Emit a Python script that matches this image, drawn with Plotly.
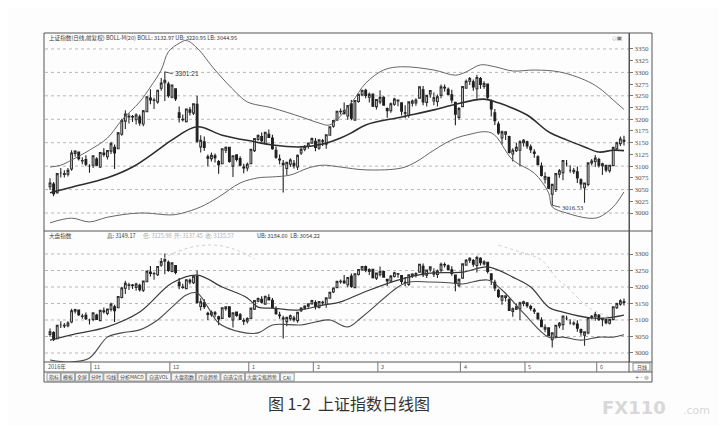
import plotly.graph_objects as go

# ---------------- data ----------------
dates = [
    "2016-10-14", "2016-10-17", "2016-10-18", "2016-10-19", "2016-10-20", "2016-10-21",
    "2016-10-24", "2016-10-25", "2016-10-26", "2016-10-27", "2016-10-28", "2016-10-31",
    "2016-11-01", "2016-11-02", "2016-11-03", "2016-11-04", "2016-11-07", "2016-11-08",
    "2016-11-09", "2016-11-10", "2016-11-11", "2016-11-14", "2016-11-15", "2016-11-16",
    "2016-11-17", "2016-11-18", "2016-11-21", "2016-11-22", "2016-11-23", "2016-11-24",
    "2016-11-25", "2016-11-28", "2016-11-29", "2016-11-30",
    "2016-12-01", "2016-12-02", "2016-12-05", "2016-12-06", "2016-12-07", "2016-12-08",
    "2016-12-09", "2016-12-12", "2016-12-13", "2016-12-14", "2016-12-15", "2016-12-16",
    "2016-12-19", "2016-12-20", "2016-12-21", "2016-12-22", "2016-12-23", "2016-12-26",
    "2016-12-27", "2016-12-28", "2016-12-29", "2016-12-30",
    "2017-01-03", "2017-01-04", "2017-01-05", "2017-01-06", "2017-01-09", "2017-01-10",
    "2017-01-11", "2017-01-12", "2017-01-13", "2017-01-16", "2017-01-17", "2017-01-18",
    "2017-01-19", "2017-01-20", "2017-01-23", "2017-01-24", "2017-01-25", "2017-01-26",
    "2017-02-03", "2017-02-06", "2017-02-07", "2017-02-08", "2017-02-09", "2017-02-10",
    "2017-02-13", "2017-02-14", "2017-02-15", "2017-02-16", "2017-02-17", "2017-02-20",
    "2017-02-21", "2017-02-22", "2017-02-23", "2017-02-24", "2017-02-27", "2017-02-28",
    "2017-03-01", "2017-03-02", "2017-03-03", "2017-03-06", "2017-03-07", "2017-03-08",
    "2017-03-09", "2017-03-10", "2017-03-13", "2017-03-14", "2017-03-15", "2017-03-16",
    "2017-03-17", "2017-03-20", "2017-03-21", "2017-03-22", "2017-03-23", "2017-03-24",
    "2017-03-27", "2017-03-28", "2017-03-29", "2017-03-30", "2017-03-31",
    "2017-04-05", "2017-04-06", "2017-04-07", "2017-04-10", "2017-04-11", "2017-04-12",
    "2017-04-13", "2017-04-14", "2017-04-17", "2017-04-18", "2017-04-19", "2017-04-20",
    "2017-04-21", "2017-04-24", "2017-04-25", "2017-04-26", "2017-04-27", "2017-04-28",
    "2017-05-02", "2017-05-03", "2017-05-04", "2017-05-05", "2017-05-08", "2017-05-09",
    "2017-05-10", "2017-05-11", "2017-05-12", "2017-05-15", "2017-05-16", "2017-05-17",
    "2017-05-18", "2017-05-19", "2017-05-22", "2017-05-23", "2017-05-24", "2017-05-25",
    "2017-05-26", "2017-05-31",
    "2017-06-01", "2017-06-02", "2017-06-05", "2017-06-06", "2017-06-07", "2017-06-08",
    "2017-06-09", "2017-06-12",
]

opens = [
    3056, 3062, 3043, 3085, 3082, 3083, 3094, 3127, 3130, 3111, 3114, 3100,
    3102, 3115, 3098, 3128, 3120, 3132, 3140, 3137, 3168, 3196, 3205, 3206, 3199, 3205, 3190, 3216, 3245, 3240, 3237, 3266, 3278, 3275,
    3247, 3265, 3214, 3200, 3195, 3220, 3213, 3232, 3141, 3152, 3120, 3116, 3122, 3110, 3105, 3134, 3140, 3100, 3124, 3116, 3098, 3096,
    3105, 3133, 3157, 3163, 3148, 3168, 3160, 3134, 3115, 3106, 3095, 3104, 3106, 3098, 3128, 3136, 3142, 3149,
    3153, 3138, 3154, 3147, 3166, 3185, 3198, 3216, 3218, 3207, 3233, 3198, 3238, 3252, 3262, 3247, 3254, 3227,
    3237, 3247, 3223, 3218, 3232, 3239, 3235, 3214, 3208, 3234, 3235, 3245, 3263, 3236, 3254, 3239, 3238, 3251, 3268, 3264, 3252, 3236, 3204,
    3227, 3266, 3281, 3280, 3265, 3287, 3270, 3275, 3240, 3214, 3190, 3160, 3168, 3163, 3126, 3133, 3134, 3150,
    3152, 3141, 3130, 3120, 3100, 3072, 3076, 3040, 3050, 3083, 3086, 3105, 3091, 3088, 3088, 3071, 3054, 3061, 3107, 3110,
    3114, 3101, 3102, 3090, 3101, 3137, 3148, 3155,
]
highs = [
    3074, 3066, 3084, 3096, 3091, 3096, 3134, 3134, 3131, 3119, 3123, 3104,
    3122, 3119, 3130, 3138, 3134, 3152, 3146, 3173, 3201, 3219, 3213, 3209, 3213, 3210, 3220, 3249, 3264, 3246, 3263, 3288, 3301.21, 3280,
    3274, 3266, 3227, 3210, 3222, 3226, 3233, 3250, 3166, 3163, 3125, 3129, 3127, 3113, 3138, 3142, 3141, 3123, 3125, 3121, 3105, 3108,
    3136, 3160, 3168, 3172, 3173, 3178, 3167, 3142, 3125, 3113, 3109, 3117, 3113, 3125, 3139, 3145, 3150, 3161,
    3160, 3157, 3158, 3167, 3185, 3198, 3217, 3223, 3236, 3230, 3241, 3240, 3254, 3262, 3265, 3257, 3254, 3243,
    3262, 3249, 3225, 3236, 3246, 3242, 3236, 3230, 3238, 3242, 3245, 3269, 3271, 3251, 3262, 3257, 3253, 3274, 3274, 3268, 3263, 3236, 3226,
    3270, 3285, 3290, 3285, 3295, 3290, 3281, 3276, 3242, 3222, 3195, 3176, 3174, 3165, 3138, 3150, 3155, 3158,
    3154, 3146, 3136, 3123, 3108, 3087, 3077, 3062, 3084, 3094, 3112, 3113, 3102, 3096, 3099, 3074, 3065, 3108, 3115, 3124,
    3118, 3107, 3103, 3103, 3141, 3152, 3163, 3165,
]
lows = [
    3049, 3036, 3043, 3076, 3076, 3078, 3090, 3120, 3112, 3104, 3100, 3086,
    3096, 3100, 3096, 3120, 3114, 3126, 3094, 3137, 3165, 3179, 3191, 3194, 3189, 3186, 3185, 3215, 3232, 3222, 3233, 3261, 3239, 3246,
    3245, 3239, 3193, 3195, 3193, 3208, 3209, 3150, 3129, 3133, 3100, 3110, 3108, 3084, 3104, 3128, 3107, 3077, 3110, 3100, 3085, 3089,
    3105, 3130, 3154, 3151, 3147, 3160, 3135, 3116, 3104, 3044, 3081, 3098, 3095, 3092, 3124, 3132, 3137, 3148,
    3132, 3135, 3143, 3137, 3166, 3182, 3198, 3210, 3210, 3199, 3198, 3197, 3235, 3249, 3245, 3236, 3226, 3221,
    3232, 3230, 3203, 3214, 3229, 3228, 3208, 3202, 3203, 3227, 3229, 3245, 3230, 3227, 3246, 3230, 3227, 3245, 3259, 3251, 3234, 3187, 3199,
    3227, 3266, 3273, 3261, 3244, 3265, 3265, 3241, 3206, 3188, 3167, 3146, 3156, 3127, 3110, 3130, 3100, 3142,
    3137, 3128, 3118, 3102, 3078, 3063, 3051, 3016.53, 3045, 3075, 3070, 3099, 3086, 3083, 3064, 3052, 3022, 3057, 3102, 3098,
    3097, 3081, 3087, 3086, 3100, 3133, 3143, 3144,
]
closes = [
    3064, 3041, 3084, 3085, 3084, 3091, 3128, 3132, 3116, 3112, 3104, 3100,
    3122, 3102, 3129, 3125, 3133, 3148, 3128, 3171, 3197, 3211, 3207, 3205, 3209, 3192, 3218, 3248, 3241, 3241, 3262, 3277, 3283, 3250,
    3273, 3244, 3204, 3199, 3222, 3215, 3233, 3153, 3155, 3140, 3117, 3123, 3118, 3103, 3137, 3140, 3110, 3122, 3114, 3102, 3096, 3104,
    3136, 3159, 3165, 3154, 3172, 3161, 3137, 3119, 3113, 3103, 3108, 3113, 3101, 3123, 3136, 3142, 3149, 3159,
    3140, 3156, 3153, 3167, 3184, 3197, 3217, 3217, 3212, 3229, 3202, 3240, 3253, 3262, 3251, 3253, 3228, 3242,
    3247, 3230, 3218, 3233, 3243, 3241, 3217, 3213, 3237, 3239, 3241, 3269, 3237, 3251, 3261, 3246, 3248, 3269, 3267, 3253, 3241, 3211, 3223,
    3270, 3281, 3287, 3269, 3289, 3274, 3276, 3247, 3222, 3197, 3171, 3173, 3173, 3129, 3134, 3140, 3152, 3155,
    3143, 3135, 3127, 3103, 3080, 3078, 3053, 3061, 3084, 3090, 3112, 3105, 3091, 3091, 3075, 3062, 3064, 3107, 3111, 3117,
    3102, 3105, 3092, 3102, 3140, 3150, 3158, 3153,
]

# Bollinger band readings (upper panel): bar index -> value
ub_at = [0, 3, 6, 11, 16, 20, 25, 28, 31, 33, 36, 38, 41, 46, 52, 55, 62, 70, 75, 78, 84, 88, 93, 98, 107, 113, 116, 120, 124, 129, 135, 142, 149, 153, 157, 160]
ub_val = [3098, 3102, 3113, 3134, 3160, 3198, 3237, 3269, 3305, 3344, 3362, 3368, 3352, 3305, 3256, 3237, 3224, 3205, 3192, 3188, 3235, 3277, 3305, 3312, 3305, 3294, 3301, 3316, 3312, 3303, 3305, 3301, 3284, 3267, 3241, 3221]
mid_at = [0, 6, 16, 23, 30, 34, 41, 48, 57, 62, 70, 76, 81, 84, 88, 98, 107, 112, 121, 125, 133, 139, 144, 149, 153, 157, 160]
mid_val = [3043, 3055, 3075, 3098, 3134, 3156, 3184, 3166, 3152, 3145, 3141, 3147, 3160, 3171, 3188, 3205, 3220, 3230, 3243, 3235, 3209, 3173, 3156, 3141, 3130, 3134, 3133]
lb_at = [0, 6, 11, 16, 25, 34, 37, 42, 47, 53, 58, 62, 67, 72, 76, 81, 88, 98, 102, 107, 112, 116, 123, 129, 135, 139, 140, 144, 150, 153, 157, 160]
lb_val = [2979, 2989, 2981, 2991, 3000, 2996, 3000, 3013, 3034, 3064, 3075, 3077, 3081, 3096, 3102, 3098, 3092, 3096, 3109, 3134, 3156, 3166, 3171, 3113, 3085, 3043, 3013, 3000, 2989, 2991, 3013, 3045]

# Lower panel ("大盘指数") lines
m2_at = [0, 6, 16, 25, 34, 41, 48, 55, 58, 62, 69, 76, 81, 87, 97, 106, 115, 122, 129, 134, 139, 143, 151, 155, 160]
m2_val = [3039, 3055, 3079, 3124, 3212, 3236, 3200, 3167, 3139, 3136, 3130, 3145, 3155, 3182, 3221, 3242, 3245, 3261, 3230, 3200, 3139, 3124, 3106, 3106, 3115]
l2_at = [0, 6, 11, 16, 20, 25, 30, 34, 38, 41, 44, 47, 53, 58, 62, 70, 74, 78, 83, 87, 97, 100, 106, 112, 115, 122, 126, 132, 139, 143, 148, 153, 157, 160]
l2_val = [2979, 2973, 2985, 3048, 3061, 3070, 3100, 3139, 3176, 3182, 3139, 3091, 3064, 3061, 3085, 3085, 3094, 3100, 3079, 3109, 3200, 3215, 3215, 3212, 3209, 3221, 3191, 3121, 3048, 3048, 3039, 3048, 3048, 3055]
# faint grey curve pieces visible in the lower panel (gaps where it leaves the panel)
u2_at = [30, 34, 40, 46, 52, 57, None, 125, 131, 137, 141, 145, 150, 156]
u2_val = [3275, 3300, 3322, 3327, 3312, 3285, None, 3327, 3306, 3282, 3230, 3191, 3139, 3109]

upper_ticks = [3000, 3025, 3050, 3075, 3100, 3125, 3150, 3175, 3200, 3225, 3250, 3275, 3300, 3325, 3350]
upper_grid = [3000, 3050, 3100, 3150, 3200, 3250, 3300, 3350]
lower_ticks = [3000, 3050, 3100, 3150, 3200, 3250, 3300]

month_labels = ["2016年", "11", "12", "1", "2", "3", "4", "5", "6"]
month_dates = ["2016-10-14", "2016-11-01", "2016-12-01", "2017-01-03", "2017-02-03",
               "2017-03-01", "2017-04-05", "2017-05-02", "2017-06-01"]

tabs = ["指标", "模板", "全屏", "分时", "均线", "分析MACD", "自选VOL", "大盘指数",
        "行业趋势", "自选宝库", "大盘宝瓶趋势", "CAI"]

header_upper = "上证指数(日线,前复权) BOLL-M(20) BOLL: 3132.97 UB: 3220.95 LB: 3044.95"
header_lower_a = "大盘指数"
header_lower_b = "高: 3149.17"
header_lower_c = "低: 3125.98  开: 3137.45  收: 3135.57"
header_lower_d = "UB: 3184.60  LB: 3054.22"
caption = "图 1-2  上证指数日线图"

# ---------------- figure ----------------
# the page body has an 8px margin, so the figure is 718x417 and every
# reference pixel position is shifted by 8px
OFF = 8
W, H = 726 - OFF, 425 - OFF
def px(x):
    return (x - OFF) / W
def py(y):
    return 1 - (y - OFF) / H

CJK = "Noto Sans CJK SC"
INK = "#3a3a3a"
idx = list(range(len(dates)))

fig = go.Figure()

candle_style = dict(
    increasing=dict(line=dict(color="#2e2e2e", width=1.1), fillcolor="#fdfdfd"),
    decreasing=dict(line=dict(color="#1f1f1f", width=1.1), fillcolor="#1f1f1f"),
    whiskerwidth=0, showlegend=False, hoverinfo="skip",
)

# upper panel bands
fig.add_trace(go.Scatter(x=ub_at, y=ub_val, mode="lines", line=dict(color="#666666", width=1, shape="spline"),
                         xaxis="x", yaxis="y", showlegend=False, hoverinfo="skip"))
fig.add_trace(go.Scatter(x=lb_at, y=lb_val, mode="lines", line=dict(color="#666666", width=1, shape="spline"),
                         xaxis="x", yaxis="y", showlegend=False, hoverinfo="skip"))
fig.add_trace(go.Scatter(x=mid_at, y=mid_val, mode="lines", line=dict(color="#2e2e2e", width=1.6, shape="spline"),
                         xaxis="x", yaxis="y", showlegend=False, hoverinfo="skip"))
fig.add_trace(go.Candlestick(x=idx, open=opens, high=highs, low=lows, close=closes,
                             xaxis="x", yaxis="y", **candle_style))

# lower panel
fig.add_trace(go.Scatter(x=u2_at, y=u2_val, mode="lines", connectgaps=False,
                         line=dict(color="#cfcfcf", width=1, shape="spline", dash="dot"),
                         xaxis="x2", yaxis="y2", showlegend=False, hoverinfo="skip"))
fig.add_trace(go.Scatter(x=m2_at, y=m2_val, mode="lines", line=dict(color="#3a3a3a", width=1.2, shape="spline"),
                         xaxis="x2", yaxis="y2", showlegend=False, hoverinfo="skip"))
fig.add_trace(go.Scatter(x=l2_at, y=l2_val, mode="lines", line=dict(color="#4a4a4a", width=1.1, shape="spline"),
                         xaxis="x2", yaxis="y2", showlegend=False, hoverinfo="skip"))
fig.add_trace(go.Candlestick(x=idx, open=opens, high=highs, low=lows, close=closes,
                             xaxis="x2", yaxis="y2", **candle_style))

xr = [-1.4, 161.4]
xdom = [px(45), px(629)]
common_x = dict(domain=xdom, range=xr, showticklabels=False, showgrid=False, zeroline=False,
                rangeslider=dict(visible=False), fixedrange=True, showline=False)
tickfont = dict(family="Liberation Serif", size=7, color="#555")
common_y = dict(side="right", showgrid=False, zeroline=False, ticks="outside", ticklen=3,
                tickcolor="#777", tickfont=tickfont, showline=True, linecolor="#555", linewidth=1,
                fixedrange=True)

fig.update_layout(
    width=W, height=H,
    margin=dict(l=0, r=0, t=0, b=0),
    paper_bgcolor="#fdfdfd", plot_bgcolor="#fdfdfd",
    xaxis=dict(anchor="y", **common_x),
    xaxis2=dict(anchor="y2", **common_x),
    yaxis=dict(anchor="x", domain=[py(231), py(33)], range=[2961.6, 3384],
               tickvals=upper_ticks, ticktext=[str(v) for v in upper_ticks], **common_y),
    yaxis2=dict(anchor="x2", domain=[py(362), py(231)], range=[2972.7, 3369.7],
                tickvals=lower_ticks, ticktext=[str(v) for v in lower_ticks], **common_y),
    showlegend=False,
)

shapes = []
# dotted grid lines
for v in upper_grid:
    shapes.append(dict(type="line", xref="paper", yref="y", x0=px(45), x1=px(629), y0=v, y1=v,
                       line=dict(color="#b8b8b8", width=1, dash="dot"), layer="below"))
for v in lower_ticks:
    shapes.append(dict(type="line", xref="paper", yref="y2", x0=px(45), x1=px(629), y0=v, y1=v,
                       line=dict(color="#b8b8b8", width=1, dash="dot"), layer="below"))
# frame
frame = dict(color="#555", width=1)
shapes.append(dict(type="rect", xref="paper", yref="paper", x0=px(44), x1=px(652), y0=py(382), y1=py(33), line=frame))
for yy in (231, 362, 372):
    shapes.append(dict(type="line", xref="paper", yref="paper", x0=px(44), x1=px(652), y0=py(yy), y1=py(yy), line=frame))
shapes.append(dict(type="line", xref="paper", yref="paper", x0=px(629), x1=px(629), y0=py(372), y1=py(33), line=frame))
# month separators on the time row
for d in month_dates[1:]:
    i = dates.index(d)
    shapes.append(dict(type="line", xref="x2", yref="paper", x0=i - 0.6, x1=i - 0.6, y0=py(372), y1=py(362),
                       line=dict(color="#777", width=1)))

annotations = []
annotations.append(dict(x=px(47), y=py(37.5), xref="paper", yref="paper", text=header_upper, showarrow=False,
                        xanchor="left", yanchor="middle", font=dict(family=CJK, size=5.6, color=INK)))
annotations.append(dict(x=px(47), y=py(236), xref="paper", yref="paper", text=header_lower_a, showarrow=False,
                        xanchor="left", yanchor="middle", font=dict(family=CJK, size=5.6, color=INK)))
annotations.append(dict(x=px(105), y=py(236), xref="paper", yref="paper", text=header_lower_b, showarrow=False,
                        xanchor="left", yanchor="middle", font=dict(family=CJK, size=5.6, color=INK)))
annotations.append(dict(x=px(141), y=py(236), xref="paper", yref="paper", text=header_lower_c, showarrow=False,
                        xanchor="left", yanchor="middle", font=dict(family=CJK, size=5.6, color="#b0b0b0")))
annotations.append(dict(x=px(255), y=py(236), xref="paper", yref="paper", text=header_lower_d, showarrow=False,
                        xanchor="left", yanchor="middle", font=dict(family=CJK, size=5.6, color=INK)))
annotations.append(dict(x=px(625), y=py(37.5), xref="paper", yref="paper", text="◇▣", showarrow=False,
                        xanchor="right", yanchor="middle", font=dict(family="DejaVu Sans", size=6, color="#777")))

# high / low markers
hi_i = highs.index(max(highs))
lo_i = lows.index(min(lows))
annotations.append(dict(x=hi_i, y=highs[hi_i], xref="x", yref="y", text="%.2f" % highs[hi_i],
                        showarrow=True, arrowhead=0, arrowwidth=0.8, arrowcolor="#333", ax=8, ay=2,
                        xanchor="left", yanchor="middle", font=dict(family="Liberation Sans", size=6.5, color="#333")))
annotations.append(dict(x=lo_i, y=lows[lo_i], xref="x", yref="y", text="%.2f" % lows[lo_i],
                        showarrow=True, arrowhead=0, arrowwidth=0.8, arrowcolor="#333", ax=8, ay=2,
                        xanchor="left", yanchor="middle", font=dict(family="Liberation Serif", size=6.5, color="#333")))

# month labels on the time row
for lab, d in zip(month_labels, month_dates):
    i = dates.index(d)
    annotations.append(dict(x=i - 0.2 if lab != month_labels[0] else -1.0, y=py(367), xref="x2", yref="paper",
                            text=lab, showarrow=False, xanchor="left", yanchor="middle",
                            font=dict(family=CJK, size=5.5, color="#555")))

# toolbar tabs
xpos = 47
for t in tabs:
    n_cjk = sum(1 for ch in t if ord(ch) > 255)
    n_asc = len(t) - n_cjk
    w = 5.2 * n_cjk + 3.6 * n_asc + 3
    shapes.append(dict(type="rect", xref="paper", yref="paper", x0=px(xpos), x1=px(xpos + w),
                       y0=py(381), y1=py(373), line=dict(color="#888", width=0.8), fillcolor="#f4f4f4"))
    annotations.append(dict(x=px(xpos + w / 2), y=py(377), xref="paper", yref="paper", text=t, showarrow=False,
                            xanchor="center", yanchor="middle", font=dict(family=CJK, size=5, color="#444")))
    xpos += w + 0.8

# bottom-right controls
shapes.append(dict(type="rect", xref="paper", yref="paper", x0=px(633), x1=px(650), y0=py(371), y1=py(363),
                   line=dict(color="#777", width=0.8)))
annotations.append(dict(x=px(641.5), y=py(367), xref="paper", yref="paper", text="日线", showarrow=False,
                        xanchor="center", yanchor="middle", font=dict(family=CJK, size=5, color="#444")))
annotations.append(dict(x=px(641.5), y=py(377), xref="paper", yref="paper", text="+ - ◎", showarrow=False,
                        xanchor="center", yanchor="middle", font=dict(family="DejaVu Sans", size=5, color="#555")))

# caption and watermark
annotations.append(dict(x=px(349), y=py(403), xref="paper", yref="paper", text=caption, showarrow=False,
                        xanchor="center", yanchor="middle", font=dict(family=CJK, size=16, color="#333")))
annotations.append(dict(x=px(600), y=py(407), xref="paper", yref="paper", text="<b>FX110</b>", showarrow=False,
                        xanchor="left", yanchor="middle", font=dict(family="DejaVu Sans", size=18, color="#d8d8d8")))
annotations.append(dict(x=px(681), y=py(410), xref="paper", yref="paper", text=".com", showarrow=False,
                        xanchor="left", yanchor="middle", font=dict(family="DejaVu Sans", size=11, color="#d8d8d8")))

fig.update_layout(shapes=shapes, annotations=annotations)
fig.write_html("out.html")
